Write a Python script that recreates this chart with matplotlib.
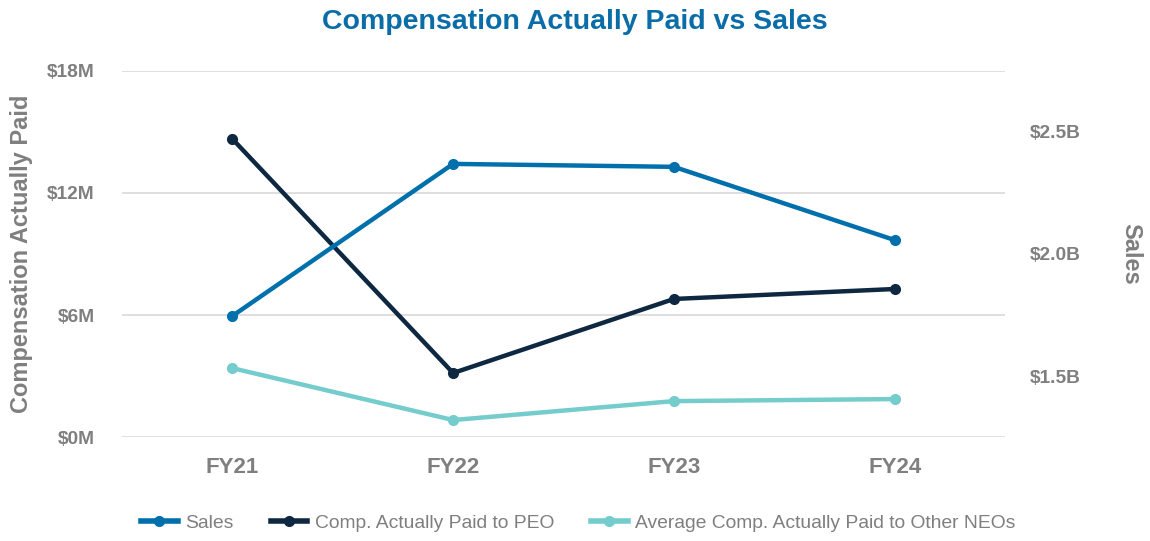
import matplotlib.pyplot as plt
from matplotlib.lines import Line2D

plt.rcParams['font.family'] = ['Liberation Sans', 'DejaVu Sans']

years = ['FY21', 'FY22', 'FY23', 'FY24']
sales_b = [1.746, 2.369, 2.357, 2.057]
cap_peo_m = [14.66, 3.15, 6.79, 7.28]
cap_neo_m = [3.39, 0.84, 1.77, 1.87]

comp_ticks = [0, 6, 12, 18]
sales_ticks = [1.5, 2.0, 2.5]

c_sales = '#0070AD'
c_peo = '#0E2841'
c_neo = '#74CCCC'
gray = '#7F7F7F'

fig = plt.figure(figsize=(11.5, 5.41), dpi=100)
ax = fig.add_axes([0.106, 0.192, 0.768, 0.677])
ax2 = ax.twinx()

x = range(len(years))
ax.plot(x, cap_peo_m, color=c_peo, lw=3.2, marker='o', ms=7, zorder=3)
ax.plot(x, cap_neo_m, color=c_neo, lw=3.2, marker='o', ms=7, zorder=3)
ax2.plot(x, sales_b, color=c_sales, lw=3.2, marker='o', ms=7, zorder=3)

ax.set_xlim(-0.5, 3.5)
ax.set_ylim(0, 18)
ax2.set_ylim(1.25, 2.75)

ax.set_yticks(comp_ticks)
ax.set_yticklabels([f'${v}M' for v in comp_ticks])
ax2.set_yticks(sales_ticks)
ax2.set_yticklabels([f'${v:.1f}B' for v in sales_ticks])
ax.set_xticks(list(x))
ax.set_xticklabels(years)

ax.grid(axis='y', color='#D9D9D9', lw=1.2)
ax.set_axisbelow(True)
for a in (ax, ax2):
    for s in a.spines.values():
        s.set_visible(False)
    a.tick_params(length=0, colors=gray)

for lab in ax.get_yticklabels() + ax2.get_yticklabels():
    lab.set_fontweight('bold')
    lab.set_fontsize(13.8)
for lab in ax.get_xticklabels():
    lab.set_fontweight('bold')
    lab.set_fontsize(16)
ax.tick_params(axis='y', pad=19.5)
ax.tick_params(axis='x', pad=14)
ax2.tick_params(axis='y', pad=18)

ax.set_ylabel('Compensation Actually Paid', fontsize=17, fontweight='bold', color=gray, labelpad=10)
ax2.set_ylabel('Sales', fontsize=17, fontweight='bold', color=gray, rotation=270, labelpad=44)

fig.suptitle('Compensation Actually Paid vs Sales', x=0.5, y=0.983, fontsize=20.5,
             fontweight='bold', color='#0A6DA8')

handles = [Line2D([], [], color=c, lw=4, marker='o', ms=7) for c in (c_sales, c_peo, c_neo)]
labels = ['Sales', 'Comp. Actually Paid to PEO', 'Average Comp. Actually Paid to Other NEOs']
leg = fig.legend(handles, labels, loc='center', bbox_to_anchor=(0.503, 0.033), ncol=3,
                 frameon=False, fontsize=13.9, handlelength=1.9, columnspacing=1.9, handletextpad=0.4)
for t in leg.get_texts():
    t.set_color(gray)

fig.savefig('out.png', dpi=100)
